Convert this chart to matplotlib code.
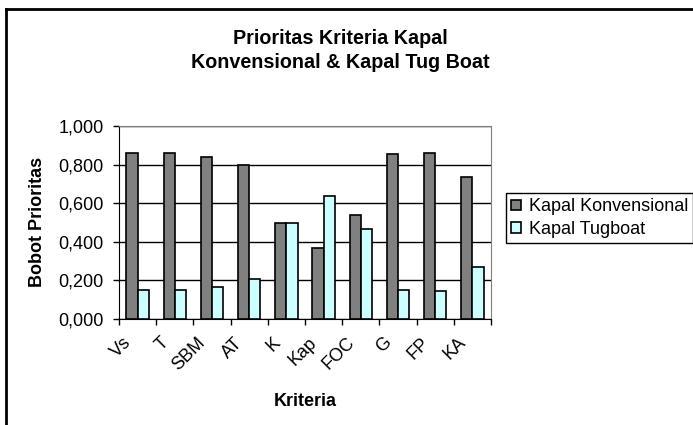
import numpy as np
import matplotlib
matplotlib.use("Agg")
import matplotlib.pyplot as plt
import matplotlib.transforms as mtransforms
from matplotlib.lines import Line2D
from matplotlib.ticker import FuncFormatter, FixedLocator

plt.rcParams['font.family'] = ['Liberation Sans', 'DejaVu Sans']

kriteria = ['Vs', 'T', 'SBM', 'AT', 'K', 'Kap', 'FOC', 'G', 'FP', 'KA']
konvensional = [0.858, 0.858, 0.839, 0.798, 0.500, 0.369, 0.539, 0.857, 0.862, 0.734]
tugboat = [0.149, 0.149, 0.167, 0.207, 0.500, 0.637, 0.468, 0.150, 0.143, 0.271]

W, H = 693, 425
fig = plt.figure(figsize=(W / 100, H / 100), dpi=100)
ax = fig.add_axes([119 / W, 106 / H, 372 / W, 193 / H])

x = np.arange(len(kriteria))
bw = 0.3
ax.bar(x - bw / 2, konvensional, bw, color='#808080', edgecolor='black', linewidth=1.2,
       label='Kapal Konvensional', zorder=3)
ax.bar(x + bw / 2, tugboat, bw, color='#CCFFFF', edgecolor='black', linewidth=1.2,
       label='Kapal Tugboat', zorder=3)

ax.set_xlim(-0.5, len(kriteria) - 0.5)
ax.set_ylim(0, 1.0)
ax.set_yticks(np.arange(0, 1.01, 0.2))
ax.yaxis.set_major_formatter(FuncFormatter(lambda v, p: f'{v:.3f}'.replace('.', ',')))
ax.yaxis.grid(True, color='black', linewidth=1)
ax.set_axisbelow(True)

# ticks on category boundaries, labels at the centres
ax.xaxis.set_major_locator(FixedLocator(np.arange(-0.5, len(kriteria), 1.0)))
ax.xaxis.set_major_formatter(FuncFormatter(lambda v, p: ''))
ax.xaxis.set_minor_locator(FixedLocator(x))
ax.set_xticklabels(kriteria, minor=True)
ax.tick_params(axis='x', which='minor', length=0, pad=11, labelsize=13, labelrotation=45)
shift = mtransforms.ScaledTranslation(-15 / 100, 0, fig.dpi_scale_trans)
for lab in ax.get_xticklabels(minor=True):
    lab.set_ha('right')
    lab.set_va('top')
    lab.set_rotation_mode('anchor')
    lab.set_transform(lab.get_transform() + shift)
ax.tick_params(axis='x', which='major', length=4.5, direction='out', width=1)
ax.tick_params(axis='y', length=4.5, direction='out', width=1, labelsize=13, pad=6.5)

for s in ['top', 'right']:
    ax.spines[s].set_color('#808080')
for s in ['left', 'bottom']:
    ax.spines[s].set_color('black')

ax.set_xlabel('Kriteria', fontsize=13, fontweight='bold')
ax.xaxis.set_label_coords(305 / W, 1 - 401 / H, transform=fig.transFigure)
ax.xaxis.label.set_va('center')
ax.set_ylabel('Bobot Prioritas', fontsize=13, fontweight='bold')
ax.yaxis.set_label_coords(37 / W, 1 - 222 / H, transform=fig.transFigure)
ax.yaxis.label.set_va('center')

fig.text(340 / W, 1 - 44 / H, 'Prioritas Kriteria Kapal', ha='center', va='baseline',
         fontsize=14.2, fontweight='bold')
fig.text(340 / W, 1 - 68 / H, 'Konvensional & Kapal Tug Boat', ha='center', va='baseline',
         fontsize=14.2, fontweight='bold')

leg = fig.legend(loc='upper left', bbox_to_anchor=(506 / W, 1 - 193 / H), fontsize=13,
                 frameon=True, fancybox=False, edgecolor='black', framealpha=1,
                 handlelength=0.55, handleheight=0.55, handletextpad=0.4,
                 borderpad=0.3, labelspacing=0.3, borderaxespad=0)
leg.get_frame().set_linewidth(1)

# outer chart border (only top/left visible)
fig.add_artist(Line2D([6 / W, 1], [1 - 9 / H, 1 - 9 / H], color='black', linewidth=2))
fig.add_artist(Line2D([6 / W, 6 / W], [0, 1 - 9 / H], color='black', linewidth=2))

fig.savefig('out.png', dpi=100)
